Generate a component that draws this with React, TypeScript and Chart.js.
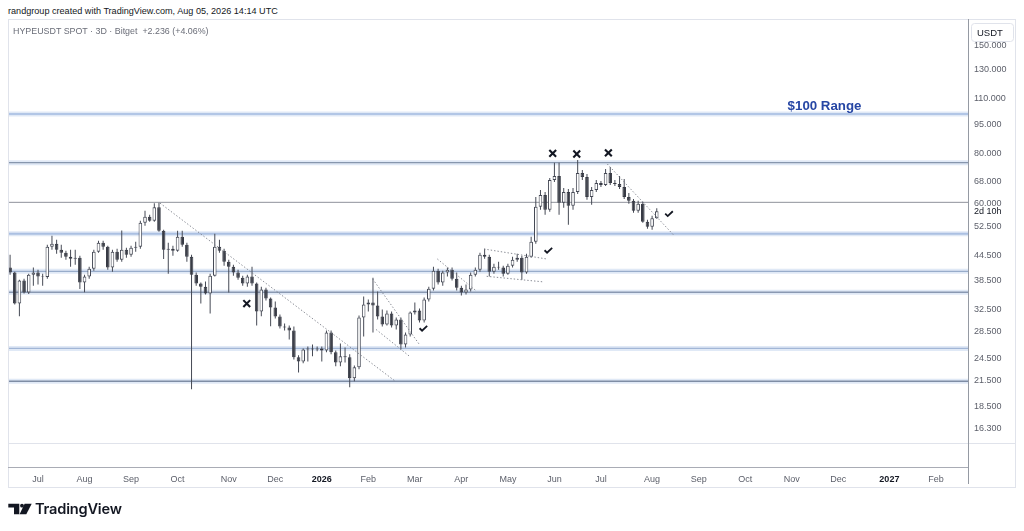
import React, { useEffect, useRef } from "react";
import { Chart, registerables } from "chart.js";

Chart.register(...registerables);

// ---- data (days counted from 2025-07-01, 3-day candles) ----
const START_DAY = -18;
const STEP = 3;

const opens = [
  41.37, 40.19, 33.60, 38.37, 35.80, 39.72, 40.19, 39.27, 39.16, 46.70,
  47.51, 45.89, 45.11, 44.08, 43.57, 43.83, 37.93, 39.27, 41.13, 45.37,
  47.78, 46.70, 41.37, 45.37, 43.32, 45.89, 44.59, 46.43, 46.70, 53.64,
  55.53, 54.26, 58.67, 51.22, 45.89, 46.16, 45.63, 49.47, 47.24, 44.08,
  39.72, 37.71, 37.05, 35.60, 39.49, 46.70, 45.63, 42.82, 41.60, 40.19,
  39.04, 37.71, 39.27, 37.71, 32.08, 36.42, 34.58, 32.82, 31.17, 29.42,
  29.25, 28.74, 24.60, 24.03, 25.76, 25.91, 25.76, 25.91, 25.61, 28.42,
  25.32, 23.89, 24.74, 24.60, 21.78, 23.22, 30.99, 33.40, 33.79, 33.21,
  31.17, 29.76, 31.71, 29.59, 30.63, 26.51, 28.09, 31.90, 32.27, 30.45,
  34.38, 36.63, 40.65, 37.93, 40.19, 40.89, 38.81, 36.84, 35.80, 36.42,
  39.72, 40.89, 44.59, 44.08, 40.42, 41.60, 41.37, 39.95, 41.84, 43.32,
  43.83, 40.19, 44.08, 48.06, 58.83, 63.05, 57.82, 68.76, 70.35, 60.21,
  64.16, 59.17, 64.16, 71.60, 69.96, 62.33, 64.90, 67.58, 66.80, 71.60,
  67.58, 67.19, 66.04, 62.33, 60.91, 57.49, 59.86, 53.95, 52.41, 55.07,
];
const highs = [
  44.59, 40.42, 38.59, 38.81, 39.95, 41.37, 40.89, 39.95, 47.24, 49.76,
  48.62, 47.24, 45.63, 45.89, 45.89, 44.33, 39.72, 41.60, 45.89, 48.34,
  48.34, 46.97, 45.89, 46.16, 51.30, 46.43, 46.97, 48.06, 54.26, 57.49,
  56.17, 60.10, 60.21, 51.51, 47.78, 46.97, 51.22, 51.22, 47.78, 44.59,
  40.19, 37.93, 38.15, 39.95, 50.33, 48.62, 46.16, 43.32, 42.08, 40.89,
  39.49, 39.72, 41.60, 37.93, 37.05, 36.84, 34.78, 33.99, 31.53, 29.93,
  29.59, 29.42, 24.89, 25.91, 26.21, 26.51, 26.21, 26.21, 28.74, 28.74,
  25.61, 26.67, 26.06, 25.03, 23.48, 31.35, 34.98, 34.38, 39.04, 36.01,
  32.45, 32.27, 32.08, 30.99, 30.99, 28.42, 32.08, 33.79, 32.63, 34.78,
  37.05, 41.60, 41.13, 40.65, 41.37, 41.37, 40.19, 37.27, 37.49, 40.19,
  41.37, 45.11, 46.16, 44.59, 42.33, 42.82, 41.84, 42.33, 44.08, 44.85,
  44.33, 44.85, 49.47, 62.33, 64.90, 64.16, 69.56, 75.99, 75.99, 65.66,
  65.28, 65.66, 77.18, 72.85, 71.19, 66.04, 68.76, 68.36, 73.27, 74.11,
  68.76, 70.35, 69.16, 63.77, 61.61, 60.91, 60.56, 54.57, 55.85, 58.37,
];
const lows = [
  39.72, 33.40, 31.22, 35.60, 35.50, 37.27, 37.49, 37.27, 38.81, 45.89,
  44.85, 43.83, 43.32, 41.60, 42.08, 36.56, 35.86, 38.81, 40.65, 45.11,
  45.89, 40.89, 40.42, 42.82, 42.82, 43.83, 44.08, 45.37, 46.16, 52.71,
  53.95, 53.95, 50.92, 43.50, 39.95, 44.33, 45.37, 46.70, 42.82, 20.44,
  37.27, 33.60, 35.39, 31.71, 39.27, 45.11, 41.84, 35.80, 39.49, 38.59,
  37.27, 37.05, 37.27, 29.59, 31.22, 34.18, 29.47, 30.81, 29.08, 28.74,
  27.29, 24.31, 22.52, 23.76, 24.03, 24.74, 25.47, 24.03, 25.32, 25.03,
  23.35, 23.35, 23.89, 20.68, 21.41, 22.95, 27.77, 32.08, 28.42, 30.63,
  29.42, 29.59, 29.25, 28.91, 25.76, 26.06, 27.77, 31.53, 30.10, 30.10,
  33.99, 36.21, 37.49, 37.27, 39.27, 38.37, 36.21, 35.19, 35.39, 36.01,
  39.27, 40.42, 43.57, 39.27, 39.95, 40.89, 39.27, 39.72, 41.37, 42.82,
  38.59, 39.95, 43.83, 47.51, 57.82, 56.17, 57.15, 67.97, 56.17, 58.49,
  53.02, 57.82, 63.42, 68.76, 61.26, 59.51, 64.16, 66.04, 66.42, 66.80,
  66.42, 65.28, 61.61, 59.86, 56.82, 56.82, 53.64, 51.81, 51.51, 54.90,
];
const closes = [
  40.19, 33.60, 38.37, 35.80, 39.72, 40.19, 39.27, 39.16, 46.70, 47.51,
  45.89, 45.11, 44.08, 43.57, 43.83, 37.93, 39.27, 41.13, 45.37, 47.78,
  46.70, 41.37, 45.37, 43.32, 45.89, 44.59, 46.43, 46.70, 53.64, 55.53,
  54.26, 58.67, 51.22, 45.89, 46.16, 45.63, 49.47, 47.24, 44.08, 39.72,
  37.71, 37.05, 35.60, 39.49, 46.70, 45.63, 42.82, 41.60, 40.19, 39.04,
  37.71, 39.27, 37.71, 32.08, 36.42, 34.58, 32.82, 31.17, 29.42, 29.25,
  28.74, 24.60, 24.03, 25.76, 25.91, 25.76, 25.91, 25.61, 28.42, 25.32,
  23.89, 24.74, 24.60, 21.78, 23.22, 30.99, 33.40, 33.79, 33.21, 31.17,
  29.76, 31.71, 29.59, 30.63, 26.51, 28.09, 31.90, 32.27, 30.45, 34.38,
  36.63, 40.65, 37.93, 40.19, 40.89, 38.81, 36.84, 35.80, 36.42, 39.72,
  40.89, 44.59, 44.08, 40.42, 41.60, 41.37, 39.95, 41.84, 43.32, 43.83,
  40.19, 44.08, 48.06, 58.83, 63.05, 57.82, 68.76, 70.35, 60.21, 64.16,
  59.17, 64.16, 71.60, 69.96, 62.33, 64.90, 67.58, 66.80, 71.60, 67.58,
  67.19, 66.04, 62.33, 60.91, 57.49, 59.86, 53.95, 52.41, 55.07, 57.31,
];

const priceTicks = [16.3, 18.5, 21.5, 24.5, 28.5, 32.5, 38.5, 44.5, 52.5, 60, 68, 80, 95, 110, 130, 150];
const monthStartDays = [0, 31, 62, 92, 123, 153, 184, 215, 243, 274, 304, 335, 365, 396, 427, 457, 488, 518, 549, 580];
const monthLabels = ["Jul", "Aug", "Sep", "Oct", "Nov", "Dec", "2026", "Feb", "Mar", "Apr", "May", "Jun", "Jul", "Aug", "Sep", "Oct", "Nov", "Dec", "2027", "Feb"];

// drawn horizontal levels (price)
const levelPrices = [100.8, 75.99, 60.39, 50.33, 40.49, 35.86, 25.91, 21.41];
// dotted trend lines: [day1, price1, day2, price2]
const trendLines = [
  [78.7, 60.1, 230.2, 21.45],
  [215.8, 38.74, 245.9, 26.51],
  [218.0, 28.91, 239.4, 24.78],
  [257.5, 43.5, 282.9, 36.07],
  [287.6, 46.08, 328.0, 43.5],
  [289.3, 39.34, 325.9, 38.09],
  [367.1, 75.42, 409.7, 50.04],
];
const crossMarks = [[134.6, 33.6], [331.9, 80.2], [347.4, 79.9], [367.8, 80.4]];
const checkMarks = [[248.5, 29.08], [329.1, 45.7], [406.9, 56.49]];
const rangeLabel = { text: "$100 Range", day: 507.2, price: 105.5 };

// ---- styling ----
const FONT = '"Liberation Sans", Arial, sans-serif';
const X_MIN = -19.35;
const X_MAX = 599.7;
const Y_MIN = 13.032;
const Y_MAX = 174.69;
const UP_FILL = "#ffffff";
const CANDLE_DARK = "#383b45";
const UP_BORDER = "#454955";
const WICK = "#464a55";

const HALO = "rgba(186,206,236,0.45)";
const levelStyles = [
  { halo: HALO, haloW: 5, core: "#b2c6e6", coreW: 2 },
  { halo: HALO, haloW: 5, core: "#8796ad", coreW: 1.3 },
  { halo: null, haloW: 0, core: "#8f929b", coreW: 1 },
  { halo: HALO, haloW: 5, core: "#abc0e2", coreW: 2 },
  { halo: HALO, haloW: 5, core: "#98acca", coreW: 1.4 },
  { halo: HALO, haloW: 5, core: "#8a99b2", coreW: 1.4 },
  { halo: HALO, haloW: 5, core: "#a2b6d6", coreW: 1.4 },
  { halo: HALO, haloW: 5, core: "#7f8da5", coreW: 1.4 },
];

const dayOf = (i: number) => START_DAY + STEP * i;
const snapToBar = (d: number) => START_DAY + STEP * Math.floor((d - START_DAY) / STEP);
const isUp = (i: number) => closes[i] >= opens[i];

const annotPlugin = {
  id: "annot",
  beforeDatasetsDraw(chart: any) {
    const { ctx, chartArea, scales } = chart;
    const y = scales.y;
    ctx.save();
    levelPrices.forEach((p, i) => {
      const st = levelStyles[i];
      const py = y.getPixelForValue(p);
      if (st.halo) {
        ctx.strokeStyle = st.halo;
        ctx.lineWidth = st.haloW;
        ctx.beginPath();
        ctx.moveTo(chartArea.left, py);
        ctx.lineTo(chartArea.right, py);
        ctx.stroke();
      }
      ctx.strokeStyle = st.core;
      ctx.lineWidth = st.coreW;
      ctx.beginPath();
      ctx.moveTo(chartArea.left, py);
      ctx.lineTo(chartArea.right, py);
      ctx.stroke();
    });
    ctx.restore();
  },
  afterDatasetsDraw(chart: any) {
    const { ctx, scales } = chart;
    const x = scales.x;
    const y = scales.y;
    ctx.save();
    ctx.strokeStyle = "#7b7e88";
    ctx.lineWidth = 0.9;
    ctx.setLineDash([1.4, 2]);
    trendLines.forEach(([d1, p1, d2, p2]) => {
      ctx.beginPath();
      ctx.moveTo(x.getPixelForValue(d1), y.getPixelForValue(p1));
      ctx.lineTo(x.getPixelForValue(d2), y.getPixelForValue(p2));
      ctx.stroke();
    });
    ctx.setLineDash([]);
    ctx.strokeStyle = "#131722";
    ctx.lineWidth = 2.1;
    ctx.lineCap = "butt";
    crossMarks.forEach(([d, p]) => {
      const cx = x.getPixelForValue(d);
      const cy = y.getPixelForValue(p);
      const s = 3.4;
      ctx.beginPath();
      ctx.moveTo(cx - s, cy - s);
      ctx.lineTo(cx + s, cy + s);
      ctx.moveTo(cx + s, cy - s);
      ctx.lineTo(cx - s, cy + s);
      ctx.stroke();
    });
    ctx.lineWidth = 1.8;
    ctx.lineJoin = "miter";
    checkMarks.forEach(([d, p]) => {
      const cx = x.getPixelForValue(d);
      const cy = y.getPixelForValue(p);
      ctx.beginPath();
      ctx.moveTo(cx - 3.8, cy - 0.2);
      ctx.lineTo(cx - 1.3, cy + 2.2);
      ctx.lineTo(cx + 3.8, cy - 2.6);
      ctx.stroke();
    });
    ctx.fillStyle = "#2646a4";
    ctx.font = `bold 13.3px ${FONT}`;
    ctx.textAlign = "center";
    ctx.textBaseline = "middle";
    ctx.fillText(rangeLabel.text, x.getPixelForValue(rangeLabel.day), y.getPixelForValue(rangeLabel.price));
    ctx.restore();
  },
  afterDraw(chart: any) {
    const { ctx, chartArea, width, height } = chart;
    ctx.save();
    ctx.strokeStyle = "#e0e3eb";
    ctx.lineWidth = 1;
    ctx.beginPath();
    ctx.moveTo(0, Math.round(chartArea.bottom - 24) + 0.5);
    ctx.lineTo(width, Math.round(chartArea.bottom - 24) + 0.5);
    ctx.stroke();
    ctx.strokeRect(0.5, 0.5, width - 1, height - 1);
    ctx.strokeStyle = "#a9acb5";
    ctx.beginPath();
    ctx.moveTo(0, Math.round(chartArea.bottom) + 0.5);
    ctx.lineTo(chartArea.right, Math.round(chartArea.bottom) + 0.5);
    ctx.stroke();
    ctx.strokeStyle = "#959aa3";
    ctx.beginPath();
    ctx.moveTo(Math.round(chartArea.right) + 0.5, 0);
    ctx.lineTo(Math.round(chartArea.right) + 0.5, height - 4);
    ctx.stroke();
    const bx = chartArea.right + 3;
    const by = 4;
    const bw = 42;
    const bh = 18;
    ctx.fillStyle = "#ffffff";
    ctx.strokeStyle = "#e0e3eb";
    ctx.beginPath();
    (ctx as any).roundRect(bx + 0.5, by + 0.5, bw, bh, 3);
    ctx.fill();
    ctx.stroke();
    ctx.fillStyle = "#131722";
    ctx.font = `9.5px ${FONT}`;
    ctx.textAlign = "left";
    ctx.textBaseline = "middle";
    ctx.fillText("USDT", bx + 6, by + bh / 2 + 1);
    ctx.fillStyle = "#ffffff";
    ctx.fillRect(chartArea.right + 1, 188, 46, 10);
    ctx.fillStyle = "#131722";
    ctx.font = `9px ${FONT}`;
    ctx.fillText("2d 10h", chartArea.right + 6, 193);
    ctx.restore();
  },
};

export default function App() {
  const ref = useRef<HTMLCanvasElement>(null);

  useEffect(() => {
    if (!ref.current) return;
    const chart = new Chart(ref.current, {
      type: "bar",
      data: {
        datasets: [
          {
            label: "body",
            data: opens.map((o, i) => ({ x: dayOf(i), y: [o, closes[i]] })) as any,
            backgroundColor: (c: any) => (isUp(c.dataIndex) ? UP_FILL : CANDLE_DARK),
            borderColor: (c: any) => (isUp(c.dataIndex) ? UP_BORDER : CANDLE_DARK),
            borderWidth: 1,
            borderSkipped: false,
            barThickness: 3.6,
            grouped: false,
            inflateAmount: 0,
          } as any,
          {
            label: "wick",
            data: highs.map((h, i) => ({ x: dayOf(i), y: [lows[i], h] })) as any,
            backgroundColor: WICK,
            borderWidth: 0,
            barThickness: 1,
            grouped: false,
            inflateAmount: 0,
          } as any,
        ],
      },
      options: {
        animation: false,
        responsive: true,
        maintainAspectRatio: false,
        events: [],
        layout: { padding: 0 },
        plugins: { legend: { display: false }, tooltip: { enabled: false } },
        scales: {
          x: {
            type: "linear",
            min: X_MIN,
            max: X_MAX,
            bounds: "data",
            offset: false,
            grid: { display: false, drawTicks: false },
            border: { display: false },
            ticks: {
              autoSkip: false,
              maxRotation: 0,
              padding: 7,
              font: (c: any) => ({
                family: FONT,
                size: 9,
                weight: /^\d{4}$/.test(monthLabels[c.index] || "") ? "bold" : "normal",
              }),
              color: (c: any) => (/^\d{4}$/.test(monthLabels[c.index] || "") ? "#131722" : "#5d606b"),
              callback: (_v: any, i: number) => monthLabels[i],
            },
            afterBuildTicks: (s: any) => {
              s.ticks = monthStartDays.map((d) => ({ value: snapToBar(d) }));
            },
            afterFit: (s: any) => {
              s.height = 21;
              s.paddingLeft = 0;
              s.paddingRight = 0;
            },
          } as any,
          y: {
            type: "logarithmic",
            position: "right",
            min: Y_MIN,
            max: Y_MAX,
            bounds: "data",
            grid: { display: false, drawTicks: false },
            border: { display: false },
            ticks: {
              autoSkip: false,
              padding: 6,
              font: { family: FONT, size: 9 },
              color: "#5d606b",
              callback: (v: any) => Number(v).toFixed(3),
            },
            afterBuildTicks: (s: any) => {
              s.ticks = priceTicks.map((v) => ({ value: v }));
            },
            afterFit: (s: any) => {
              s.width = 48;
              s.paddingTop = 0;
              s.paddingBottom = 0;
            },
          } as any,
        },
      },
      plugins: [annotPlugin],
    });
    return () => chart.destroy();
  }, []);

  return (
    <div
      style={{
        position: "absolute",
        left: 0,
        top: 0,
        width: 1024,
        height: 531,
        background: "#ffffff",
        fontFamily: FONT,
        overflow: "hidden",
      }}
    >
      <div
        style={{
          position: "absolute",
          left: 8,
          top: 5,
          fontSize: 9.1,
          lineHeight: "12px",
          color: "#131722",
          whiteSpace: "nowrap",
        }}
      >
        randgroup created with TradingView.com, Aug 05, 2026 14:14 UTC
      </div>
      <div style={{ position: "absolute", left: 8, top: 19, width: 1008, height: 469 }}>
        <canvas ref={ref} />
      </div>
      <div
        style={{
          position: "absolute",
          left: 13,
          top: 25,
          fontSize: 8.9,
          lineHeight: "12px",
          color: "#6a6d78",
          whiteSpace: "pre",
        }}
      >
        {"HYPEUSDT SPOT · 3D · Bitget  +2.236 (+4.06%)"}
      </div>
      <svg
        style={{ position: "absolute", left: 0, top: 0 }}
        width={40}
        height={531}
        viewBox="0 0 40 531"
      >
        <path d="M8.3 503.8 H19.3 V514.2 H14 V507.4 H8.3 Z" fill="#131722" />
        <circle cx={22} cy={505.7} r={1.9} fill="#131722" />
        <path d="M24.6 503.8 H31.7 L26.3 514.2 H19.6 Z" fill="#131722" />
      </svg>
      <div
        style={{
          position: "absolute",
          left: 35,
          top: 500,
          fontFamily: "Inter, sans-serif",
          fontWeight: 600,
          fontSize: 14.6,
          lineHeight: "18px",
          color: "#131722",
          whiteSpace: "nowrap",
          letterSpacing: -0.2,
        }}
      >
        TradingView
      </div>
    </div>
  );
}
